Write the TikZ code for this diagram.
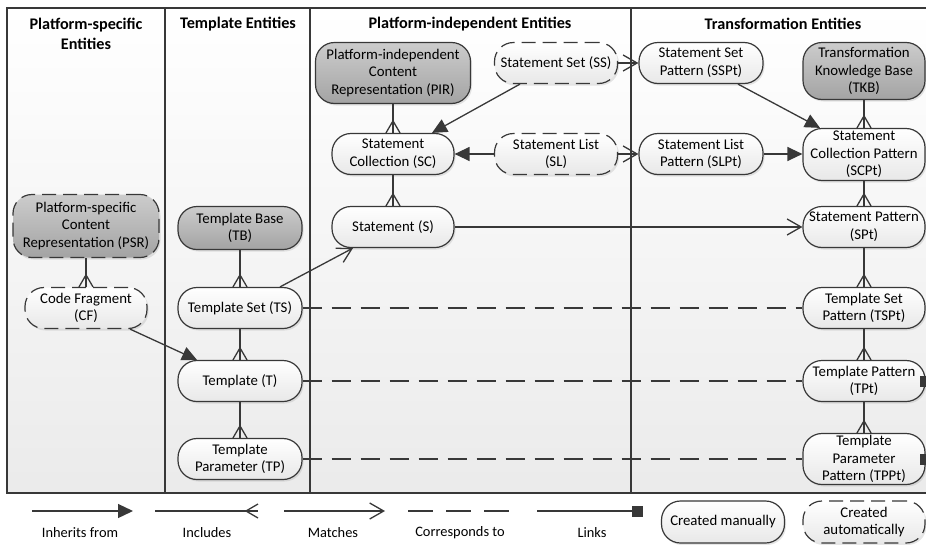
\documentclass[tikz,border=0pt]{standalone}
\usepackage{fontspec}
\setmainfont{Carlito}
\usetikzlibrary{arrows.meta,shadows,decorations.markings}
\definecolor{ln}{HTML}{383838}
\begin{document}
\begin{tikzpicture}[x=1pt,y=-1pt,
  font=\fontsize{14.8}{17.6}\selectfont,
  entbox/.style={draw=ln, line width=1.2pt, rounded corners=19pt, align=center,
    inner sep=1pt, minimum width=122pt, minimum height=41pt,
    top color=white, bottom color=black!9,
    drop shadow={shadow xshift=1.5pt, shadow yshift=-2pt, opacity=0.2}},
  basebox/.style={entbox, top color=black!20, bottom color=black!36},
  autobox/.style={dash pattern=on 14pt off 7pt},
  hdr/.style={font=\fontsize{16.2}{19.5}\selectfont\bfseries, align=center},
  lab/.style={font=\fontsize{14.4}{17}\selectfont},
  conn/.style={draw=ln, line width=1.3pt},
  inh/.style={conn, -{Triangle[length=15pt,width=14pt]}},
  inc/.style={conn, postaction={decorate}, decoration={markings,
    mark=at position 1 with {\draw[ln, line width=1.3pt] (-12pt,0pt) -- (0pt,7pt) (-12pt,0pt) -- (0pt,-7pt);}}},
  mat/.style={conn, -{Straight Barb[length=14pt,width=16pt]}},
  cor/.style={conn, dash pattern=on 19pt off 10pt},
  lnk/.style={conn, -{Square[length=11pt,width=11pt]}}
]
\useasboundingbox (0,0) rectangle (926,544);
\clip (0,0) rectangle (926,544);
\fill[white] (0,0) rectangle (926,544);
% frame
\shade[top color=white, bottom color=black!8] (7,8) rectangle (980,493);
\draw[ln, line width=1.1pt] (7,8) rectangle (980,493);
\draw[ln, line width=1.1pt] (165,8) -- (165,493) (310,8) -- (310,493) (631,8) -- (631,493);
% headers
\node[hdr] (h1) at (86,34) {Platform-specific\\Entities};
\node[hdr] (h2) at (238,24) {Template Entities};
\node[hdr] (h3) at (470,24) {Platform-independent Entities};
\node[hdr] (h4) at (783,24) {Transformation Entities};
% nodes
\node[basebox, autobox, minimum width=146pt, minimum height=63pt] (PSR) at (86,226) {Platform-specific\\Content\\Representation (PSR)};
\node[entbox, autobox] (CF) at (86,308) {Code Fragment\\(CF)};
\node[basebox, minimum width=124pt, minimum height=43pt] (TB) at (240,228) {Template Base\\(TB)};
\node[entbox, minimum width=124pt] (TS) at (240,308) {Template Set (TS)};
\node[entbox, minimum width=124pt] (T) at (240,381) {Template (T)};
\node[entbox, minimum width=124pt] (TP) at (240,459) {Template\\Parameter (TP)};
\node[basebox, minimum width=155pt, minimum height=61pt] (PIR) at (393,73) {Platform-independent\\Content\\Representation (PIR)};
\node[entbox, autobox, minimum width=123pt] (SS) at (556,63) {Statement Set (SS)};
\node[entbox] (SC) at (393,154) {Statement\\Collection (SC)};
\node[entbox, autobox, minimum width=123pt] (SL) at (556,154) {Statement List\\(SL)};
\node[entbox] (S) at (393,227) {Statement (S)};
\node[entbox, minimum width=124pt] (SSPt) at (701,63) {Statement Set\\Pattern (SSPt)};
\node[entbox, minimum width=124pt] (SLPt) at (701,154) {Statement List\\Pattern (SLPt)};
\node[basebox, minimum height=57pt] (TKB) at (864,71) {Transformation\\Knowledge Base\\(TKB)};
\node[entbox, minimum height=52pt, inner sep=0pt] (SCPt) at (864,154.5) {Statement\\Collection Pattern\\(SCPt)};
\node[entbox] (SPt) at (864,227) {Statement Pattern\\(SPt)};
\node[entbox] (TSPt) at (864,308) {Template Set\\Pattern (TSPt)};
\node[entbox] (TPt) at (864,381) {Template Pattern\\(TPt)};
\node[entbox, minimum height=51pt, inner sep=0pt] (TPPt) at (864,459) {Template\\Parameter\\Pattern (TPPt)};
% connectors
\draw[inc] (PIR.south) -- (SC.north);
\draw[inh] ([xshift=-36pt]SS.south) -- ([xshift=39pt]SC.north);
\draw[inh] (SL.west) -- (SC.east);
\draw[mat] (SS.east) -- (SSPt.west);
\draw[mat] (SL.east) -- (SLPt.west);
\draw[inh] ([xshift=37pt]SSPt.south) -- ([xshift=-44pt]SCPt.north);
\draw[inh] (SLPt.east) -- (SLPt.east -| SCPt.west);
\draw[inc] (TKB.south) -- (SCPt.north);
\draw[inc] (SC.south) -- (S.north);
\draw[mat] (S.east) -- (SPt.west);
\draw[inc] (SCPt.south) -- (SPt.north);
\draw[inc] (SPt.south) -- (TSPt.north);
\draw[inc] (TSPt.south) -- (TPt.north);
\draw[inc] (TPt.south) -- (TPPt.north);
\draw[inc] (PSR.south) -- (CF.north);
\draw[inc] (TB.south) -- (TS.north);
\draw[inc] (TS.south) -- (T.north);
\draw[inc] (T.south) -- (TP.north);
\draw[inh] ([xshift=44pt]CF.south) -- ([xshift=-43pt]T.north);
\draw[mat] ([xshift=40pt]TS.north) -- ([xshift=-40pt]S.south);
\draw[cor] (TS.east) -- (TSPt.west);
\draw[cor] (T.east) -- (TPt.west);
\draw[cor] (TP.east) -- (TPPt.west);
\coordinate (o1) at (990,381);
\coordinate (o2) at (990,459);
\draw[lnk, shorten >=-6pt] (o1) -- (TPt.east);
\draw[lnk, shorten >=-6pt] (o2) -- (TPPt.east);
% legend
\coordinate (a1) at (32,511);  \coordinate (a2) at (133,511);
\coordinate (b1) at (155,511); \coordinate (b2) at (258,511);
\coordinate (c1) at (284,511); \coordinate (c2) at (385,511);
\coordinate (d1) at (408,511); \coordinate (d2) at (515,511);
\coordinate (e1) at (537,511); \coordinate (e2) at (643,511);
\draw[inh] (a1) -- (a2);
\draw[inc] (b1) -- (b2);
\draw[mat] (c1) -- (c2);
\draw[conn, dash pattern=on 25pt off 13pt] (d1) -- (d2);
\draw[lnk] (e1) -- (e2);
\node[lab] (la) at (80,533) {Inherits from};
\node[lab] (lb) at (207,533) {Includes};
\node[lab] (lc) at (333,533) {Matches};
\node[lab] (ld) at (460,533) {Corresponds to};
\node[lab] (le) at (592,533) {Links};
\node[entbox, minimum width=123pt, minimum height=42pt] (lm) at (723,522) {Created manually};
\node[entbox, autobox, minimum height=42pt] (lauto) at (864,522) {Created\\automatically};
\end{tikzpicture}
\end{document}
